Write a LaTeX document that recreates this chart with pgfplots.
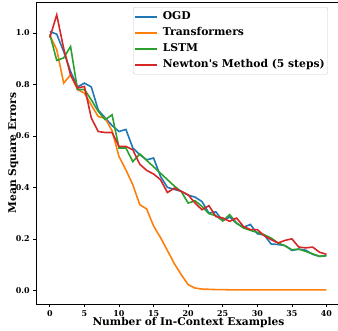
\documentclass[border=0pt]{standalone}
\usepackage{fontspec}
\setmainfont{DejaVu Serif}
\usepackage{pgfplots}
\pgfplotsset{compat=1.18}
\definecolor{tabblue}{HTML}{1F77B4}
\definecolor{taborange}{HTML}{FF7F0E}
\definecolor{tabgreen}{HTML}{2CA02C}
\definecolor{tabred}{HTML}{D62728}
\begin{document}
\begin{tikzpicture}[x=1bp,y=1bp]
\begin{axis}[
  at={(36bp,27bp)}, anchor=south west,
  width=304.3bp, height=302bp, scale only axis,
  xmin=-2, xmax=42, ymin=-0.053, ymax=1.12,
  xtick={0,5,...,40}, ytick={0,0.2,0.4,0.6,0.8,1.0},
  tick pos=left, tick align=outside,
  major tick length=2.8bp,
  tick style={black, line width=0.7bp},
  axis line style={line width=0.7bp},
  /pgf/number format/assume math mode=true,
  ticklabel style={font=\bfseries\fontsize{8}{9.6}\selectfont},
  yticklabel style={/pgf/number format/fixed, /pgf/number format/fixed zerofill, /pgf/number format/precision=1},
  xlabel={Number of In-Context Examples},
  ylabel={Mean Square Errors},
  label style={font=\bfseries\fontsize{10.7}{12.8}\selectfont},
  xlabel style={at={(axis description cs:0.501,-0.0728)}, anchor=base},
  ylabel style={at={(axis description cs:-0.0657,0.5)}, anchor=base},
  legend cell align=left,
  legend style={at={(0.319,0.9834)}, anchor=north west, draw=black!20, rounded corners=2bp,
    fill=white, fill opacity=0.8, text opacity=1,
    font=\bfseries\fontsize{10.8}{12.9}\selectfont,
    inner xsep=1bp, inner ysep=3.5bp, row sep=4bp, column sep=3bp,
    nodes={inner xsep=2bp, inner ysep=1bp, text height=7.8bp, text depth=2.2bp}},
  legend image code/.code={\draw[mark repeat=2,mark phase=2,#1] plot coordinates {(0bp,0bp) (11bp,0bp) (22bp,0bp)};},
  legend image post style={line width=1.6bp},
  every axis plot/.append style={line width=1.6bp},
]
\addplot[tabblue] table {
0 1.005
1 0.995
2 0.928
3 0.85
4 0.79
5 0.805
6 0.79
7 0.70
8 0.67
9 0.64
10 0.617
11 0.625
12 0.553
13 0.527
14 0.507
15 0.514
16 0.443
17 0.40
18 0.392
19 0.385
20 0.37
21 0.362
22 0.345
23 0.30
24 0.305
25 0.27
26 0.285
27 0.26
28 0.245
29 0.256
30 0.22
31 0.215
32 0.18
33 0.178
34 0.174
35 0.155
36 0.16
37 0.156
38 0.14
39 0.132
40 0.135
};
\addlegendentry{OGD}
\addplot[taborange] table {
0 0.99
1 0.935
2 0.805
3 0.837
4 0.78
5 0.766
6 0.72
7 0.675
8 0.668
9 0.62
10 0.52
11 0.468
12 0.41
13 0.333
14 0.316
15 0.25
16 0.205
17 0.155
18 0.104
19 0.061
20 0.022
21 0.009
22 0.005
23 0.004
24 0.003
25 0.003
26 0.002
27 0.002
28 0.002
29 0.002
30 0.002
31 0.002
32 0.002
33 0.002
34 0.002
35 0.002
36 0.002
37 0.002
38 0.002
39 0.002
40 0.002
};
\addlegendentry{Transformers}
\addplot[tabgreen] table {
0 0.995
1 0.893
2 0.903
3 0.947
4 0.78
5 0.78
6 0.74
7 0.695
8 0.663
9 0.682
10 0.553
11 0.553
12 0.50
13 0.53
14 0.505
15 0.48
16 0.455
17 0.43
18 0.405
19 0.384
20 0.339
21 0.348
22 0.326
23 0.298
24 0.29
25 0.27
26 0.294
27 0.262
28 0.242
29 0.233
30 0.225
31 0.216
32 0.203
33 0.184
34 0.173
35 0.158
36 0.16
37 0.151
38 0.142
39 0.132
40 0.135
};
\addlegendentry{LSTM}
\addplot[tabred] table {
0 0.982
1 1.07
2 0.94
3 0.837
4 0.786
5 0.792
6 0.669
7 0.617
8 0.613
9 0.613
10 0.559
11 0.559
12 0.546
13 0.49
14 0.466
15 0.452
16 0.43
17 0.38
18 0.397
19 0.384
20 0.371
21 0.339
22 0.313
23 0.329
24 0.287
25 0.281
26 0.268
27 0.281
28 0.248
29 0.236
30 0.236
31 0.212
32 0.197
33 0.184
34 0.194
35 0.2
36 0.168
37 0.165
38 0.168
39 0.148
40 0.14
};
\addlegendentry{Newton\textquotesingle s Method (5 steps)}
\end{axis}
\pgfresetboundingbox
\useasboundingbox (0,0) rectangle (338,331);
\end{tikzpicture}
\end{document}
